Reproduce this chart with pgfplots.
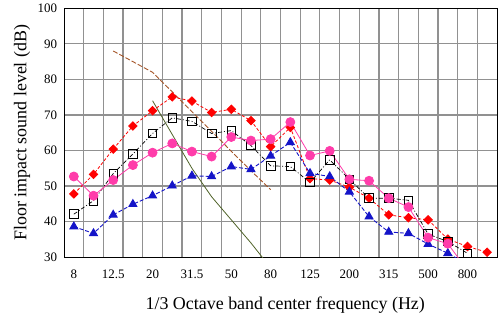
\documentclass[border=0pt]{standalone}
\usepackage{fontspec}
\setmainfont{Liberation Serif}
\usepackage{pgfplots}
\pgfplotsset{compat=1.18}
\definecolor{cred}{RGB}{255,0,0}
\definecolor{cpink}{RGB}{255,60,170}
\definecolor{cblue}{RGB}{20,20,200}
\definecolor{cbrown}{RGB}{165,85,40}
\definecolor{cgreen}{RGB}{79,98,40}
\definecolor{cgrid}{RGB}{145,145,145}
\begin{document}
\begin{tikzpicture}
\useasboundingbox (-64bp,-66.8bp) rectangle (438bp,257.2bp);
\begin{axis}[
 at={(0,0)}, anchor=south west,
 scale only axis, width=433bp, height=248.9bp,
 xmin=-0.5, xmax=21.5, ymin=30, ymax=100,
 xtick={0,2,...,20}, xticklabels={8,12.5,20,31.5,50,80,125,200,315,500,800},
 minor xtick={0.5,1.5,...,20.5},
 ytick={30,40,...,100},
 xminorgrids=true, ymajorgrids=true, xmajorgrids=false,
 major tick length=0pt, minor tick length=0pt,
 grid style={draw=cgrid, line width=1.2pt},
 minor grid style={draw=cgrid, line width=1.2pt},
 axis line style={line width=1pt},
 tick label style={font=\fontsize{13}{15}\selectfont},
 /pgf/number format/assume math mode=true,
 yticklabel style={xshift=-3.5bp},
 xticklabel style={yshift=-9bp},
 label style={font=\fontsize{18}{20}\selectfont},
 xlabel={1/3 Octave band center frequency (Hz)},
 ylabel={Floor impact sound level (dB)},
 xlabel style={at={(axis description cs:0.511,-0.193)}, anchor=center},
 ylabel style={at={(axis description cs:-0.097,0.5)}, anchor=center},
]
% green reference curve
\addplot[cgreen, line width=0.8pt, no marks] coordinates {
(4,74) (5,64.5) (6,55) (7,47) (8,40.5) (9,34) (10,27)};
% brown dashed curve
\addplot[cbrown, line width=0.9pt, no marks, dash pattern=on 5pt off 2pt] coordinates {
(2,88) (3,85) (4,82) (5,76.5) (6,70.9) (7,65.4) (8,59.8) (9,54.3) (10,49)};
% red diamonds
\addplot[cred, line width=0.8pt, dash pattern=on 3pt off 2pt, mark=square*, mark size=3.0bp, mark options={solid, fill=cred, rotate=45}] coordinates {
(0,47.8) (1,53.3) (2,60.4) (3,66.9) (4,71.2) (5,75.1) (6,73.9) (7,70.7) (8,71.6) (9,68.4) (10,61.1)
(11,66.5) (12,52.1) (13,51.7) (14,49.7) (15,46.6) (16,41.9) (17,41.1) (18,40.5) (19,35.1) (20,33.0) (21,31.4)};
% black squares
\addplot[black, line width=0.7pt, dash pattern=on 4pt off 2pt on 1pt off 2pt, mark=square, mark size=4.3bp, mark options={solid, line width=0.8pt}] coordinates {
(0,42.1) (1,45.9) (2,53.5) (3,59.0) (4,64.8) (5,69.2) (6,68.2) (7,64.8) (8,65.6) (9,61.4) (10,55.7)
(11,55.5) (12,51.0) (13,57.4) (14,51.9) (15,46.6) (16,46.6) (17,46.0) (18,36.5) (19,34.4) (20,31.1)};
% blue triangles
\addplot[cblue, line width=0.9pt, dash pattern=on 4pt off 2pt, mark=triangle*, mark size=4.6bp, mark options={solid, fill=cblue}] coordinates {
(0,38.6) (1,36.7) (2,41.9) (3,44.9) (4,47.3) (5,50.1) (6,52.9) (7,52.7) (8,55.5) (9,54.7) (10,58.5)
(11,62.3) (12,53.6) (13,52.7) (14,48.4) (15,41.4) (16,37.1) (17,36.7) (18,33.7) (19,31.1) (20,28)};
% pink circles
\addplot[cpink, line width=0.8pt, mark=*, mark size=4.5bp, mark options={solid, fill=cpink}] coordinates {
(0,52.7) (1,47.3) (2,51.7) (3,55.9) (4,59.4) (5,62.0) (6,59.7) (7,58.3) (8,63.8) (9,62.8) (10,63.2)
(11,68.0) (12,58.6) (13,59.9) (14,51.9) (15,51.5) (16,46.6) (17,44.1) (18,35.5) (19,33.8) (20,26.3)};
\end{axis}
\end{tikzpicture}
\end{document}
